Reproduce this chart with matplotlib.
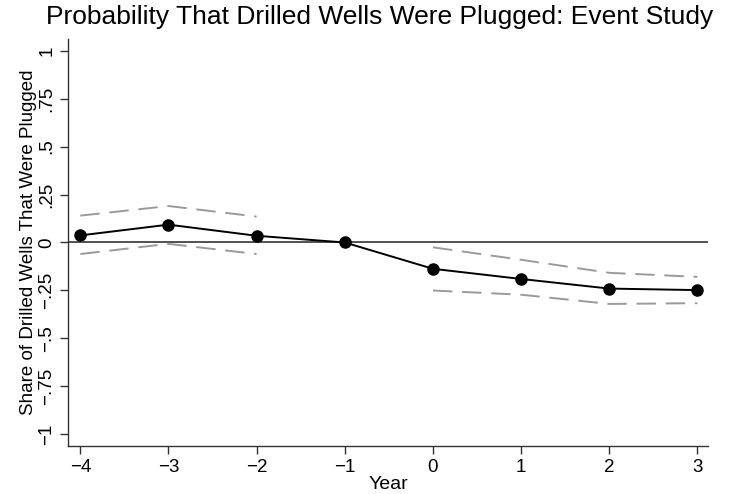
import matplotlib.pyplot as plt

plt.rcParams['font.family'] = ['Liberation Sans', 'DejaVu Sans']

# event-study coefficients and 95% bounds
years = [-4, -3, -2, -1, 0, 1, 2, 3]
coef = [0.037, 0.093, 0.035, 0.0, -0.137, -0.19, -0.24, -0.248]

pre_years = [-4, -3, -2]
pre_upper = [0.14, 0.19, 0.135]
pre_lower = [-0.06, -0.007, -0.06]

post_years = [0, 1, 2, 3]
post_upper = [-0.025, -0.09, -0.158, -0.179]
post_lower = [-0.25, -0.272, -0.32, -0.316]

yticks = [-1, -0.75, -0.5, -0.25, 0, 0.25, 0.5, 0.75, 1]
ytick_labels = ['\u22121', '\u2212.75', '\u2212.5', '\u2212.25', '0', '.25', '.5', '.75', '1']
xtick_labels = ['\u22124', '\u22123', '\u22122', '\u22121', '0', '1', '2', '3']

fig = plt.figure(figsize=(7.32, 4.94), dpi=100)
ax = fig.add_axes([68 / 732, 1 - 446 / 494, (708 - 68) / 732, (446 - 39) / 494])

ax.axhline(0, color='#333333', lw=1.2, zorder=1)

dash = (0, (10, 5))
for xs, ys in [(pre_years, pre_upper), (pre_years, pre_lower),
               (post_years, post_upper), (post_years, post_lower)]:
    ax.plot(xs, ys, color='#9a9a9a', lw=1.4, linestyle=dash, zorder=2)

ax.plot(years, coef, color='black', lw=1.4, marker='o', markersize=8, zorder=3)

ax.set_xlim(-4.14, 3.12)
ax.set_ylim(-1.06, 1.06)
ax.set_xticks(years)
ax.set_xticklabels(xtick_labels)
ax.set_yticks(yticks)
ax.set_yticklabels(ytick_labels, rotation=90, va='center')

for side in ['top', 'right']:
    ax.spines[side].set_visible(False)
for side in ['left', 'bottom']:
    ax.spines[side].set_color('#333333')
    ax.spines[side].set_linewidth(1.0)

ax.tick_params(axis='both', length=6, width=1.0, color='#333333', labelsize=13.5)
ax.tick_params(axis='y', pad=3)
ax.tick_params(axis='x', pad=3)

ax.set_xlabel('Year', fontsize=14, labelpad=0)
ax.set_ylabel('Share of Drilled Wells That Were Plugged', fontsize=13.5, labelpad=1)
fig.suptitle('Probability That Drilled Wells Were Plugged: Event Study',
             fontsize=19, x=0.518, y=0.99)

fig.savefig('out.png', dpi=100)
